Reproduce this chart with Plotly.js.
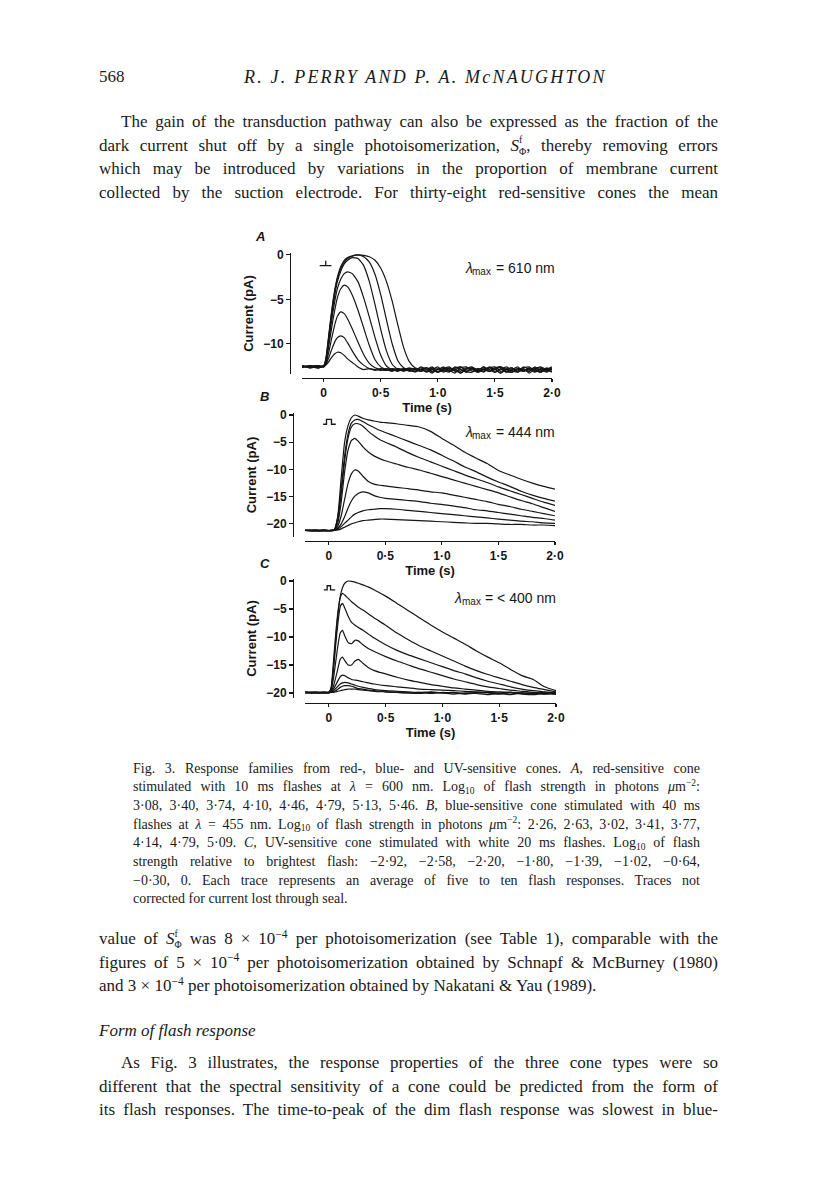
<!DOCTYPE html>
<html>
<head>
<meta charset="utf-8">
<script src="https://cdn.plot.ly/plotly-3.0.1.min.js"></script>
<style>
  html, body { margin: 0; padding: 0; background: #fff; }
  #page { position: relative; width: 816px; height: 1181px; overflow: hidden; background: #fff; }
  #chart { position: absolute; left: 0; top: 0; width: 816px; height: 1181px; }
  .t { position: absolute; white-space: nowrap; color: #1a1a1a; font-family: 'Liberation Serif', 'Times New Roman', serif; z-index: 2; }
  .body { left: 99px; width: 619px; font-size: 17px; height: 24px; line-height: 24px; text-align: justify; text-align-last: justify; }
  .ind { left: 121px; width: 597px; }
  .cap { left: 133px; width: 567px; font-size: 14px; height: 19px; line-height: 19px; text-align: justify; text-align-last: justify; }
  .t.last { text-align-last: left; }
  sub, sup { font-size: 68%; line-height: 1; position: relative; vertical-align: baseline; }
  sup { top: -0.55em; }
  sub { top: 0.3em; }
  .stk { display: inline-block; font-size: 58%; line-height: 1.2; vertical-align: -0.45em; text-align: left; }
  .stk span { display: block; }
</style>
</head>
<body>
<div id="page">
  <div id="chart"></div>

  <div class="t" style="left:99px; top:65px; font-size:17px; line-height:24px;">568</div>
  <div class="t" style="left:244px; top:65px; font-size:18px; line-height:24px; font-style:italic; letter-spacing:2.2px;">R. J. PERRY AND P. A. McNAUGHTON</div>

  <div class="t body ind" style="top:110px;">The gain of the transduction pathway can also be expressed as the fraction of the</div>
  <div class="t body" style="top:133.5px;">dark current shut off by a single photoisomerization, <i>S</i><span class="stk"><span>f</span><span>Φ</span></span>, thereby removing errors</div>
  <div class="t body" style="top:157px;">which may be introduced by variations in the proportion of membrane current</div>
  <div class="t body" style="top:180.5px;">collected by the suction electrode. For thirty-eight red-sensitive cones the mean</div>

  <div class="t cap" style="top:758.5px;">Fig. 3. Response families from red-, blue- and UV-sensitive cones. <i>A</i>, red-sensitive cone</div>
  <div class="t cap" style="top:777.2px;">stimulated with 10 ms flashes at <i>λ</i> = 600 nm. Log<sub>10</sub> of flash strength in photons <i>μ</i>m<sup>−2</sup>:</div>
  <div class="t cap" style="top:795.9px;">3·08, 3·40, 3·74, 4·10, 4·46, 4·79, 5·13, 5·46. <i>B</i>, blue-sensitive cone stimulated with 40 ms</div>
  <div class="t cap" style="top:814.6px;">flashes at <i>λ</i> = 455 nm. Log<sub>10</sub> of flash strength in photons <i>μ</i>m<sup>−2</sup>: 2·26, 2·63, 3·02, 3·41, 3·77,</div>
  <div class="t cap" style="top:833.3px;">4·14, 4·79, 5·09. <i>C</i>, UV-sensitive cone stimulated with white 20 ms flashes. Log<sub>10</sub> of flash</div>
  <div class="t cap" style="top:852px;">strength relative to brightest flash: −2·92, −2·58, −2·20, −1·80, −1·39, −1·02, −0·64,</div>
  <div class="t cap" style="top:870.7px;">−0·30, 0. Each trace represents an average of five to ten flash responses. Traces not</div>
  <div class="t cap last" style="top:889.4px;">corrected for current lost through seal.</div>

  <div class="t body" style="top:927px;">value of <i>S</i><span class="stk"><span>f</span><span>Φ</span></span> was 8 × 10<sup>−4</sup> per photoisomerization (see Table 1), comparable with the</div>
  <div class="t body" style="top:950.5px;">figures of 5 × 10<sup>−4</sup> per photoisomerization obtained by Schnapf &amp; McBurney (1980)</div>
  <div class="t body last" style="top:974px;">and 3 × 10<sup>−4</sup> per photoisomerization obtained by Nakatani &amp; Yau (1989).</div>

  <div class="t body last" style="top:1019px; font-style:italic;">Form of flash response</div>

  <div class="t body ind" style="top:1051px;">As Fig. 3 illustrates, the response properties of the three cone types were so</div>
  <div class="t body" style="top:1074.5px;">different that the spectral sensitivity of a cone could be predicted from the form of</div>
  <div class="t body" style="top:1098px;">its flash responses. The time-to-peak of the dim flash response was slowest in blue-</div>
</div>

<script>
// ---- data ----

// A: red-sensitive cone, log10 flash strength (photons um^-2)
const flashA = ['3·08', '3·40', '3·74', '4·10', '4·46', '4·79', '5·13', '5·46'];
const tA = [-0.19, -0.12, -0.05, 0, 0.02, 0.04, 0.06, 0.08, 0.1, 0.12, 0.15, 0.18, 0.21,
  0.25, 0.3, 0.35, 0.4, 0.45, 0.5, 0.55, 0.6, 0.65, 0.7, 0.75, 0.8, 0.85, 0.9, 0.95, 1.0,
  1.05, 1.1, 1.15, 1.2, 1.25, 1.3, 1.35, 1.4, 1.45, 1.5, 1.55, 1.6, 1.65, 1.7, 1.75, 1.8,
  1.85, 1.9, 1.95, 2.0];
const a1 = [-12.45, -12.7, -12.5, -12.6, -12.4, -12.1, -11.7, -11.35, -11.1, -10.95, -11.0, -11.3, -11.7,
  -12.1, -12.6, -12.9, -12.8, -13.0, -12.8, -12.9, -13.1, -12.8, -12.9, -12.7,
  -12.9, -12.7, -13.2, -12.9, -12.6, -13.1, -12.8, -13.0, -13.3, -12.8, -12.6, -13.1, -12.9,
  -12.7, -13.2, -12.9, -12.6, -13.0, -13.2, -12.8, -13.3, -12.9, -12.7, -13.0, -13.1];
const a2 = [-12.6, -12.45, -12.7, -12.5, -12.3, -11.7, -11.0, -10.3, -9.7, -9.3, -9.1, -9.3, -9.9,
  -10.8, -11.8, -12.4, -12.8, -12.9, -13.0, -12.8, -12.9, -13.1, -12.8, -12.9,
  -13.1, -12.6, -12.9, -13.3, -12.8, -13.0, -13.2, -12.6, -12.9, -13.2, -12.7, -13.0, -12.6,
  -13.1, -12.8, -13.3, -12.9, -12.7, -13.1, -12.6, -12.9, -13.2, -12.8, -13.1, -12.7];
const a3 = [-12.7, -12.5, -12.6, -12.45, -12.2, -11.2, -10.0, -8.8, -7.7, -6.9, -6.4, -6.6, -7.2,
  -8.3, -9.8, -11.2, -12.2, -12.7, -12.9, -13.0, -12.8, -12.9, -13.1, -12.9,
  -12.8, -13.1, -12.9, -12.6, -13.2, -12.8, -13.0, -13.3, -12.7, -12.6, -13.1, -12.9, -13.2,
  -12.7, -12.9, -12.6, -13.1, -13.2, -12.8, -12.9, -13.1, -12.6, -13.0, -12.8, -13.2];
const a4 = [-12.5, -12.65, -12.45, -12.6, -12.0, -10.6, -9.0, -7.4, -6.0, -4.8, -3.8, -3.4, -3.6,
  -4.5, -6.2, -8.2, -10.2, -11.8, -12.6, -12.9, -13.0, -12.8, -13.0, -12.9,
  -13.2, -12.9, -12.7, -13.1, -12.9, -12.6, -13.1, -12.8, -13.3, -12.9, -12.7, -13.1, -12.6,
  -12.9, -13.2, -12.8, -13.2, -12.9, -12.6, -13.1, -12.8, -13.0, -13.2, -12.7, -12.9];
const a5 = [-12.55, -12.5, -12.7, -12.5, -11.9, -10.2, -8.3, -6.5, -5.0, -3.8, -2.7, -2.1, -1.9,
  -2.1, -3.0, -4.8, -7.0, -9.3, -11.3, -12.5, -12.9, -13.0, -12.8, -13.1,
  -12.9, -13.1, -12.7, -12.9, -13.2, -12.8, -12.6, -13.1, -12.9, -13.2, -12.7, -12.9, -13.1,
  -12.6, -12.9, -13.3, -12.8, -13.1, -12.9, -12.7, -12.6, -13.1, -12.9, -13.2, -12.8];
const a6 = [-12.45, -12.7, -12.55, -12.5, -11.8, -9.9, -7.8, -5.9, -4.3, -3.0, -1.8, -1.0, -0.6,
  -0.3, -0.4, -1.2, -3.0, -5.6, -8.4, -10.8, -12.3, -12.9, -13.0, -12.8,
  -12.8, -12.9, -13.1, -12.7, -12.9, -13.2, -12.9, -12.7, -12.6, -13.1, -13.2, -12.8, -12.9,
  -13.1, -12.7, -12.6, -12.9, -13.2, -12.8, -13.1, -12.9, -12.7, -13.2, -12.9, -12.6];
const a7 = [-12.65, -12.5, -12.45, -12.6, -11.7, -9.7, -7.5, -5.5, -3.9, -2.7, -1.5, -0.8, -0.4,
  -0.15, 0.0, -0.2, -0.8, -2.2, -4.5, -7.3, -10.0, -11.9, -12.7, -13.0,
  -13.1, -12.9, -12.7, -13.2, -12.9, -12.7, -13.1, -12.9, -12.6, -13.1, -12.8, -13.2, -12.9,
  -12.7, -12.6, -13.1, -12.9, -12.7, -13.2, -12.9, -13.1, -12.8, -12.6, -12.9, -13.1];
const a8 = [-12.5, -12.6, -12.7, -12.5, -11.6, -9.5, -7.3, -5.3, -3.7, -2.5, -1.3, -0.6, -0.3,
  -0.1, 0.0, -0.05, -0.2, -0.6, -1.5, -3.0, -5.2, -7.9, -10.4, -12.0,
  -12.7, -12.9, -13.1, -12.8, -13.2, -12.9, -12.7, -12.9, -13.1, -12.7, -12.9, -13.2, -12.8,
  -13.1, -12.9, -12.6, -13.2, -12.8, -12.9, -13.1, -12.7, -12.9, -13.2, -12.8, -12.9];

// B: blue-sensitive cone
const flashB = ['2·26', '2·63', '3·02', '3·41', '3·77', '4·14', '4·79', '5·09'];
const tB = [-0.21, -0.12, -0.04, 0.02, 0.05, 0.08, 0.11, 0.14, 0.17, 0.2, 0.23, 0.26, 0.3,
  0.35, 0.4, 0.45, 0.5, 0.6, 0.7, 0.8, 0.9, 1.0, 1.1, 1.2, 1.3, 1.4, 1.5, 1.6, 1.7, 1.8, 1.9, 2.0];
const b1 = [-21.2, -21.3, -21.2, -21.2, -21.2, -21.1, -20.9, -20.6, -20.3, -20.0, -19.8, -19.6, -19.4,
  -19.3, -19.2, -19.1, -19.1, -19.2, -19.3, -19.4, -19.5, -19.6, -19.7, -19.8, -19.9, -19.9, -20.0,
  -20.1, -20.1, -20.2, -20.2, -20.3];
const b2 = [-21.2, -21.2, -21.2, -21.3, -21.2, -21.0, -20.5, -19.9, -19.3, -18.7, -18.2, -17.9, -17.6,
  -17.4, -17.3, -17.2, -17.2, -17.3, -17.5, -17.7, -17.9, -18.1, -18.3, -18.5, -18.7, -18.9, -19.1,
  -19.3, -19.5, -19.6, -19.8, -19.9];
const b3 = [-21.2, -21.3, -21.2, -21.2, -21.1, -20.8, -20.0, -18.7, -17.1, -15.8, -14.9, -14.4, -14.1,
  -14.3, -14.8, -15.1, -15.3, -15.5, -15.7, -15.9, -16.2, -16.4, -16.7, -17.0, -17.4, -17.6, -17.9,
  -18.2, -18.5, -18.8, -19.0, -19.3];
const b4 = [-21.2, -21.2, -21.3, -21.2, -21.1, -20.4, -18.5, -15.5, -12.6, -10.8, -10.1, -10.3, -11.2,
  -12.2, -12.7, -12.9, -13.0, -13.3, -13.5, -13.8, -14.1, -14.3, -14.7, -15.1, -15.5, -15.9, -16.4,
  -16.8, -17.3, -17.7, -18.1, -18.5];
const b5 = [-21.2, -21.2, -21.1, -21.3, -21.1, -19.8, -16.0, -10.5, -6.5, -4.7, -4.3, -4.8, -5.8,
  -6.8, -7.5, -8.0, -8.4, -9.0, -9.6, -10.1, -10.7, -11.3, -11.9, -12.5, -13.1, -13.7, -14.3,
  -15.0, -15.7, -16.3, -17.0, -17.7];
const b6 = [-21.2, -21.3, -21.2, -21.2, -21.1, -19.2, -14.5, -8.5, -4.3, -2.2, -1.6, -1.6, -2.0,
  -3.0, -3.8, -4.5, -5.0, -5.9, -6.9, -7.8, -8.6, -9.4, -10.2, -11.0, -11.7, -12.4, -13.2,
  -13.9, -14.6, -15.3, -16.0, -16.6];
const b7 = [-21.2, -21.2, -21.3, -21.2, -21.0, -18.8, -13.5, -7.5, -3.5, -1.5, -0.9, -0.8, -1.2,
  -1.8, -2.3, -2.8, -3.2, -4.0, -4.8, -5.6, -6.4, -7.4, -8.4, -9.5, -10.4, -11.4, -12.3,
  -13.1, -14.0, -14.7, -15.3, -15.8];
const b8 = [-21.2, -21.1, -21.2, -21.2, -21.0, -18.5, -11.5, -5.0, -2.0, -0.5, 0.0, -0.2, -0.6,
  -0.9, -1.1, -1.3, -1.4, -1.6, -1.9, -2.2, -3.0, -4.3, -5.5, -6.8, -7.9, -8.9, -10.2,
  -11.0, -11.8, -12.5, -13.1, -13.6];

// C: UV-sensitive cone, log10 strength relative to brightest flash
const flashC = ['−2·92', '−2·58', '−2·20', '−1·80', '−1·39', '−1·02', '−0·64', '−0·30', '0'];
const tC = [-0.21, -0.12, -0.04, 0, 0.02, 0.04, 0.06, 0.08, 0.1, 0.12, 0.14, 0.17, 0.2, 0.23,
  0.26, 0.3, 0.35, 0.4, 0.5, 0.6, 0.7, 0.8, 0.9, 1.0, 1.1, 1.2, 1.3, 1.4, 1.5, 1.6, 1.7, 1.8, 1.9, 2.0];
const c1 = [-20.0, -19.9, -19.9, -20.0, -19.9, -19.9, -19.8, -19.7, -19.6, -19.5, -19.4, -19.3, -19.3,
  -19.3, -19.4, -19.5, -19.6, -19.7, -19.8, -19.9, -20.0, -20.1, -19.9, -20.0, -20.2, -20.0, -20.1,
  -20.3, -20.1, -20.0, -20.2, -20.3, -20.1, -20.2];
const c2 = [-19.9, -19.9, -20.0, -19.9, -19.9, -19.8, -19.6, -19.3, -19.0, -18.8, -18.7, -18.7, -18.8,
  -19.0, -19.2, -19.3, -19.5, -19.6, -19.8, -19.9, -20.0, -19.9, -20.1, -19.9, -20.0, -20.2, -20.0,
  -19.9, -20.1, -20.3, -20.0, -20.1, -19.9, -20.2];
const c3 = [-19.9, -20.0, -19.9, -19.9, -19.9, -19.6, -19.2, -18.8, -18.4, -18.2, -18.1, -18.2, -18.4,
  -18.6, -18.8, -19.0, -19.2, -19.4, -19.6, -19.7, -19.8, -19.9, -19.8, -20.0, -19.9, -20.1, -19.9,
  -20.0, -20.2, -19.9, -20.1, -20.0, -20.2, -19.9];
const c4 = [-19.9, -19.9, -20.0, -19.9, -19.8, -19.3, -18.6, -17.8, -17.1, -16.8, -16.9, -17.3, -17.6,
  -17.7, -17.8, -18.0, -18.2, -18.4, -18.7, -18.9, -19.1, -19.3, -19.4, -19.5, -19.6, -19.7, -19.8,
  -19.9, -20.0, -19.9, -20.1, -20.0, -20.2, -20.1];
const c5 = [-20.0, -19.9, -19.9, -19.9, -19.7, -18.8, -17.3, -15.6, -14.0, -13.6, -14.2, -15.0, -15.0,
  -14.3, -14.0, -14.7, -15.5, -16.0, -16.6, -17.2, -17.7, -18.1, -18.5, -18.8, -19.1, -19.3, -19.5,
  -19.7, -19.8, -19.9, -20.0, -20.1, -20.0, -20.2];
const c6 = [-19.9, -19.9, -19.9, -20.0, -19.5, -17.5, -14.5, -11.5, -9.3, -8.8, -9.8, -11.0, -11.2,
  -10.6, -10.7, -11.4, -12.1, -12.6, -13.5, -14.3, -15.0, -15.7, -16.3, -16.9, -17.5, -18.0, -18.5,
  -18.9, -19.2, -19.5, -19.7, -19.9, -20.0, -20.1];
const c7 = [-19.9, -20.0, -19.9, -19.9, -19.3, -16.0, -11.5, -7.5, -4.6, -4.0, -4.8, -6.3, -7.4,
  -7.9, -8.3, -8.8, -9.5, -10.2, -11.4, -12.4, -13.2, -13.9, -14.6, -15.3, -16.0, -16.6, -17.3,
  -17.9, -18.4, -18.9, -19.3, -19.6, -19.8, -20.0];
const c8 = [-19.9, -19.9, -20.0, -19.9, -19.2, -15.5, -10.5, -6.0, -3.0, -2.2, -2.5, -3.1, -3.7,
  -4.2, -4.7, -5.2, -5.9, -6.6, -7.9, -9.3, -10.5, -11.6, -12.5, -13.4, -14.3, -15.2, -16.0,
  -16.7, -17.3, -17.9, -18.5, -19.0, -19.4, -19.8];
const c9 = [-19.9, -20.0, -19.9, -19.9, -19.0, -14.5, -9.5, -5.5, -2.8, -1.2, -0.4, 0.0, -0.05,
  -0.2, -0.4, -0.7, -1.1, -1.6, -2.7, -4.0, -5.3, -6.6, -7.9, -9.1, -10.2, -11.3, -12.5,
  -13.6, -14.6, -15.8, -16.9, -17.6, -18.9, -19.6];

// stimulus monitor glyphs (time s, current pA)
const stimAT = [-0.035, 0.018, 0.018, 0.018, 0.068];
const stimAV = [-1.2, -1.2, -0.65, -1.2, -1.2];
const stimBT = [-0.05, -0.02, -0.02, 0.024, 0.024, 0.062];
const stimBV = [-1.7, -1.7, -0.8, -0.8, -1.7, -1.7];
const stimCT = [-0.044, -0.015, -0.015, 0.015, 0.015, 0.056];
const stimCV = [-1.6, -1.6, -0.85, -0.85, -1.6, -1.6];

// ticks and labels
const xTickVals = [0, 0.5, 1, 1.5, 2];
const xTickText = ['0', '0·5', '1·0', '1·5', '2·0'];
const yTicksA = [0, -5, -10];
const yTextA = ['0', '−5', '−10'];
const yTicksBC = [0, -5, -10, -15, -20];
const yTextBC = ['0', '−5', '−10', '−15', '−20'];
const lambdaText = ['= 610 nm', '= 444 nm', '= < 400 nm'];
const panelLetters = ['A', 'B', 'C'];

// ---- page geometry (pixels -> paper) ----
const W = 816, H = 1181;
const px = v => v / W;
const py = v => 1 - v / H;

const INK = '#151515';
const FONT = 'Liberation Sans, Arial, Helvetica, sans-serif';
const tickFont = { family: FONT, size: 12, color: INK, weight: 'bold' };
const titleFont = { family: FONT, size: 13, color: INK, weight: 'bold' };

function xAxis(left, right, range, linePx) {
  return {
    domain: [px(left), px(right)], range: range, anchor: 'free', position: py(linePx),
    showline: true, linecolor: INK, linewidth: 1.3, ticks: 'outside', ticklen: 3,
    tickwidth: 1.1, tickcolor: INK, tickvals: xTickVals, ticktext: xTickText,
    tickfont: tickFont, showgrid: false, zeroline: false, fixedrange: true,
    title: { text: 'Time (s)', font: titleFont, standoff: 3 }
  };
}
function yAxis(top, bottom, range, linePx, vals, text) {
  return {
    domain: [py(bottom), py(top)], range: range, anchor: 'free', position: px(linePx),
    showline: true, linecolor: INK, linewidth: 1.3, ticks: 'outside', ticklen: 4,
    tickwidth: 1.1, tickcolor: INK, tickvals: vals, ticktext: text,
    tickfont: tickFont, showgrid: false, zeroline: false, fixedrange: true,
    title: { text: 'Current (pA)', font: titleFont, standoff: 5 }
  };
}

function respTraces(t, list, ax) {
  return list.map(v => ({
    x: t, y: v, type: 'scatter', mode: 'lines', xaxis: 'x' + ax, yaxis: 'y' + ax,
    line: { color: INK, width: 1.2, shape: 'spline', smoothing: 0.5 }, hoverinfo: 'skip'
  }));
}
function stimTrace(t, v, ax) {
  return { x: t, y: v, type: 'scatter', mode: 'lines', xaxis: 'x' + ax, yaxis: 'y' + ax,
    line: { color: INK, width: 1.3 }, hoverinfo: 'skip' };
}

const traces = [].concat(
  respTraces(tA, [a1, a2, a3, a4, a5, a6, a7, a8], ''),
  [stimTrace(stimAT, stimAV, '')],
  respTraces(tB, [b1, b2, b3, b4, b5, b6, b7, b8], '2'),
  [stimTrace(stimBT, stimBV, '2')],
  respTraces(tC, [c1, c2, c3, c4, c5, c6, c7, c8, c9], '3'),
  [stimTrace(stimCT, stimCV, '3')]
);

// label positions in page pixels
const letterPos = [[258, 237], [263, 397], [263, 563]];
const lambdaPos = [[463, 268], [463, 432], [452, 598]];
const annotations = [];
function note(text, x, y, size, extra) {
  annotations.push({ text: text, xref: 'paper', yref: 'paper', x: px(x), y: py(y),
    xanchor: 'left', yanchor: 'middle', showarrow: false,
    font: Object.assign({ family: FONT, size: size, color: INK }, extra || {}) });
}
panelLetters.forEach((L, i) => {
  note(L, letterPos[i][0] - 5, letterPos[i][1], 13, { weight: 'bold', style: 'italic' });
  const [lx, ly] = lambdaPos[i];
  note('λ', lx, ly, 14, { style: 'italic' });
  note('max', lx + 7.5, ly + 3.5, 10);
  note(lambdaText[i], lx + 31, ly, 14);
});

const layout = {
  width: W, height: H, margin: { l: 0, r: 0, t: 0, b: 0 },
  paper_bgcolor: '#fff', plot_bgcolor: 'rgba(0,0,0,0)',
  showlegend: false, hovermode: false,
  xaxis: xAxis(302, 552, [-0.19, 2.0], 378),
  yaxis: yAxis(253, 374, [-13.4, 0.22], 290, yTicksA, yTextA),
  xaxis2: xAxis(305, 555, [-0.21, 2.0], 541),
  yaxis2: yAxis(413, 537, [-22.4, 0.37], 293, yTicksBC, yTextBC),
  xaxis3: xAxis(305, 556, [-0.21, 2.0], 703),
  yaxis3: yAxis(579, 698, [-20.9, 0.36], 293, yTicksBC, yTextBC),
  annotations: annotations
};

Plotly.newPlot('chart', traces, layout, { staticPlot: true, displayModeBar: false });
</script>
</body>
</html>
